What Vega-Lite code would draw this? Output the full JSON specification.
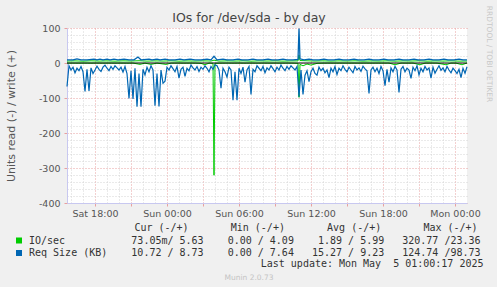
{
"$schema":"https://vega.github.io/schema/vega-lite/v6.json",
"width":400,"height":175,
"autosize":{"type":"none"},
"padding":{"left":67,"top":28,"right":30,"bottom":84},
"background":"#f0f0f0",
"title":{"text":"IOs for /dev/sda - by day","fontSize":12.5,"fontWeight":"normal","color":"#444444","font":"DejaVu Sans","anchor":"middle","dx":-18,"dy":33,"offset":4,"baseline":"alphabetic"},
"datasets":{
"iw":[{"t":"2025-05-03T15:40","v":5.5},{"t":"2025-05-03T16:20","v":6},{"t":"2025-05-03T17:00","v":5.2},{"t":"2025-05-03T17:40","v":6.2},{"t":"2025-05-03T18:20","v":5.5},{"t":"2025-05-03T19:00","v":6},{"t":"2025-05-03T19:40","v":5.3},{"t":"2025-05-03T20:20","v":6.1},{"t":"2025-05-03T21:00","v":5.6},{"t":"2025-05-03T21:40","v":6.5},{"t":"2025-05-03T22:20","v":5.4},{"t":"2025-05-03T23:00","v":6},{"t":"2025-05-03T23:40","v":5.5},{"t":"2025-05-04T00:20","v":6.2},{"t":"2025-05-04T01:00","v":5.3},{"t":"2025-05-04T01:40","v":5.9},{"t":"2025-05-04T02:20","v":5.5},{"t":"2025-05-04T03:00","v":6.1},{"t":"2025-05-04T03:40","v":5.6},{"t":"2025-05-04T03:55","v":8},{"t":"2025-05-04T04:20","v":5.4},{"t":"2025-05-04T05:00","v":6},{"t":"2025-05-04T05:40","v":5.5},{"t":"2025-05-04T06:20","v":6.2},{"t":"2025-05-04T07:00","v":5.3},{"t":"2025-05-04T07:40","v":6},{"t":"2025-05-04T08:20","v":5.6},{"t":"2025-05-04T09:00","v":6.1},{"t":"2025-05-04T09:40","v":5.4},{"t":"2025-05-04T10:20","v":5.9},{"t":"2025-05-04T10:55","v":6},{"t":"2025-05-04T11:00","v":23.36},{"t":"2025-05-04T11:05","v":7},{"t":"2025-05-04T11:40","v":6.3},{"t":"2025-05-04T12:20","v":5.5},{"t":"2025-05-04T13:00","v":6.1},{"t":"2025-05-04T13:40","v":5.4},{"t":"2025-05-04T14:20","v":6},{"t":"2025-05-04T15:00","v":5.6},{"t":"2025-05-04T15:40","v":6.2},{"t":"2025-05-04T16:20","v":5.3},{"t":"2025-05-04T17:00","v":5.9},{"t":"2025-05-04T17:40","v":5.5},{"t":"2025-05-04T18:20","v":6.1},{"t":"2025-05-04T19:00","v":5.4},{"t":"2025-05-04T19:40","v":6},{"t":"2025-05-04T20:20","v":5.6},{"t":"2025-05-04T21:00","v":6.2},{"t":"2025-05-04T21:40","v":5.3},{"t":"2025-05-04T22:20","v":5.9},{"t":"2025-05-04T23:00","v":5.5},{"t":"2025-05-04T23:40","v":6.1},{"t":"2025-05-05T00:20","v":5.4},{"t":"2025-05-05T01:00","v":5.63}],
"ir":[{"t":"2025-05-03T15:40","v":-0.4},{"t":"2025-05-03T16:10","v":-0.2},{"t":"2025-05-03T16:40","v":-0.4},{"t":"2025-05-03T17:10","v":-0.2},{"t":"2025-05-03T17:40","v":-0.4},{"t":"2025-05-03T18:10","v":-0.2},{"t":"2025-05-03T18:40","v":-0.4},{"t":"2025-05-03T19:10","v":-0.2},{"t":"2025-05-03T19:40","v":-0.4},{"t":"2025-05-03T20:10","v":-0.2},{"t":"2025-05-03T20:40","v":-0.4},{"t":"2025-05-03T21:10","v":-0.2},{"t":"2025-05-03T21:45","v":-4},{"t":"2025-05-03T22:10","v":-0.4},{"t":"2025-05-03T22:40","v":-4},{"t":"2025-05-03T23:10","v":-0.4},{"t":"2025-05-03T23:55","v":-4},{"t":"2025-05-04T00:20","v":-0.4},{"t":"2025-05-04T00:50","v":-0.2},{"t":"2025-05-04T01:20","v":-0.4},{"t":"2025-05-04T01:50","v":-0.2},{"t":"2025-05-04T02:20","v":-0.4},{"t":"2025-05-04T02:50","v":-1},{"t":"2025-05-04T03:10","v":-5},{"t":"2025-05-04T03:30","v":-0.4},{"t":"2025-05-04T03:50","v":-1},{"t":"2025-05-04T03:55","v":-320.77},{"t":"2025-05-04T04:00","v":-1},{"t":"2025-05-04T04:30","v":-0.4},{"t":"2025-05-04T05:00","v":-0.2},{"t":"2025-05-04T05:30","v":-0.4},{"t":"2025-05-04T06:00","v":-0.2},{"t":"2025-05-04T06:30","v":-0.4},{"t":"2025-05-04T07:00","v":-0.2},{"t":"2025-05-04T07:30","v":-0.4},{"t":"2025-05-04T08:00","v":-0.2},{"t":"2025-05-04T08:30","v":-0.4},{"t":"2025-05-04T09:00","v":-0.2},{"t":"2025-05-04T09:30","v":-0.4},{"t":"2025-05-04T10:00","v":-0.2},{"t":"2025-05-04T10:30","v":-0.4},{"t":"2025-05-04T10:55","v":-1},{"t":"2025-05-04T11:00","v":-98},{"t":"2025-05-04T11:05","v":-4},{"t":"2025-05-04T11:20","v":-8},{"t":"2025-05-04T11:40","v":-3},{"t":"2025-05-04T12:00","v":-6},{"t":"2025-05-04T12:30","v":-1},{"t":"2025-05-04T13:00","v":-0.4},{"t":"2025-05-04T13:30","v":-0.2},{"t":"2025-05-04T14:00","v":-0.4},{"t":"2025-05-04T14:30","v":-0.2},{"t":"2025-05-04T15:00","v":-0.4},{"t":"2025-05-04T15:30","v":-0.2},{"t":"2025-05-04T16:00","v":-0.4},{"t":"2025-05-04T16:30","v":-0.2},{"t":"2025-05-04T17:00","v":-0.4},{"t":"2025-05-04T17:30","v":-0.2},{"t":"2025-05-04T18:00","v":-0.4},{"t":"2025-05-04T18:30","v":-0.2},{"t":"2025-05-04T19:00","v":-5},{"t":"2025-05-04T19:30","v":-0.2},{"t":"2025-05-04T20:00","v":-0.4},{"t":"2025-05-04T20:30","v":-0.2},{"t":"2025-05-04T21:05","v":-5},{"t":"2025-05-04T21:30","v":-0.4},{"t":"2025-05-04T22:00","v":-0.2},{"t":"2025-05-04T22:30","v":-0.4},{"t":"2025-05-04T23:15","v":-5},{"t":"2025-05-04T23:40","v":-0.2},{"t":"2025-05-05T00:05","v":-0.4},{"t":"2025-05-05T00:35","v":-5},{"t":"2025-05-05T01:00","v":-0.07}],
"rw":[{"t":"2025-05-03T15:40","v":9},{"t":"2025-05-03T16:10","v":8.8},{"t":"2025-05-03T16:30","v":11.5},{"t":"2025-05-03T16:50","v":9},{"t":"2025-05-03T17:20","v":8.7},{"t":"2025-05-03T17:55","v":11},{"t":"2025-05-03T18:10","v":9},{"t":"2025-05-03T18:25","v":11},{"t":"2025-05-03T18:40","v":9},{"t":"2025-05-03T19:00","v":11},{"t":"2025-05-03T19:15","v":8.8},{"t":"2025-05-03T19:35","v":11},{"t":"2025-05-03T19:55","v":9},{"t":"2025-05-03T20:25","v":11},{"t":"2025-05-03T20:50","v":8.8},{"t":"2025-05-03T21:15","v":9},{"t":"2025-05-03T21:35","v":17},{"t":"2025-05-03T21:50","v":9},{"t":"2025-05-03T22:30","v":11},{"t":"2025-05-03T22:45","v":9},{"t":"2025-05-03T23:10","v":11},{"t":"2025-05-03T23:25","v":8.8},{"t":"2025-05-03T23:50","v":11},{"t":"2025-05-04T00:10","v":9},{"t":"2025-05-04T00:40","v":8.7},{"t":"2025-05-04T01:05","v":11},{"t":"2025-05-04T01:25","v":9},{"t":"2025-05-04T01:55","v":11},{"t":"2025-05-04T02:20","v":8.8},{"t":"2025-05-04T02:50","v":9},{"t":"2025-05-04T03:20","v":11},{"t":"2025-05-04T03:40","v":9},{"t":"2025-05-04T03:55","v":19},{"t":"2025-05-04T04:10","v":9},{"t":"2025-05-04T04:40","v":11},{"t":"2025-05-04T05:00","v":8.8},{"t":"2025-05-04T05:30","v":9},{"t":"2025-05-04T05:55","v":11},{"t":"2025-05-04T06:15","v":8.8},{"t":"2025-05-04T06:45","v":9},{"t":"2025-05-04T07:10","v":11},{"t":"2025-05-04T07:30","v":8.8},{"t":"2025-05-04T08:00","v":9},{"t":"2025-05-04T08:25","v":11},{"t":"2025-05-04T08:45","v":8.8},{"t":"2025-05-04T09:15","v":9},{"t":"2025-05-04T09:40","v":11},{"t":"2025-05-04T10:00","v":8.8},{"t":"2025-05-04T10:30","v":9},{"t":"2025-05-04T10:55","v":10},{"t":"2025-05-04T11:00","v":98.73},{"t":"2025-05-04T11:05","v":12},{"t":"2025-05-04T11:25","v":8.8},{"t":"2025-05-04T11:50","v":11},{"t":"2025-05-04T12:10","v":9},{"t":"2025-05-04T12:40","v":8.8},{"t":"2025-05-04T13:05","v":11},{"t":"2025-05-04T13:25","v":9},{"t":"2025-05-04T13:55","v":8.8},{"t":"2025-05-04T14:20","v":11},{"t":"2025-05-04T14:40","v":9},{"t":"2025-05-04T15:10","v":8.8},{"t":"2025-05-04T15:35","v":11},{"t":"2025-05-04T15:55","v":9},{"t":"2025-05-04T16:25","v":8.8},{"t":"2025-05-04T16:50","v":11},{"t":"2025-05-04T17:10","v":9},{"t":"2025-05-04T17:40","v":8.8},{"t":"2025-05-04T18:05","v":11},{"t":"2025-05-04T18:25","v":9},{"t":"2025-05-04T18:55","v":8.8},{"t":"2025-05-04T19:20","v":11},{"t":"2025-05-04T19:40","v":9},{"t":"2025-05-04T20:10","v":8.8},{"t":"2025-05-04T20:35","v":11},{"t":"2025-05-04T20:55","v":9},{"t":"2025-05-04T21:25","v":8.8},{"t":"2025-05-04T21:50","v":11},{"t":"2025-05-04T22:10","v":9},{"t":"2025-05-04T22:40","v":8.8},{"t":"2025-05-04T23:05","v":11},{"t":"2025-05-04T23:25","v":9},{"t":"2025-05-04T23:55","v":8.8},{"t":"2025-05-05T00:20","v":11},{"t":"2025-05-05T00:40","v":9},{"t":"2025-05-05T01:00","v":8.73}],
"rr":[{"t":"2025-05-03T15:40","v":-67},{"t":"2025-05-03T15:50","v":-8},{"t":"2025-05-03T16:00","v":-20},{"t":"2025-05-03T16:10","v":-12},{"t":"2025-05-03T16:20","v":-28},{"t":"2025-05-03T16:30","v":-15},{"t":"2025-05-03T16:40","v":-22},{"t":"2025-05-03T16:50","v":-10},{"t":"2025-05-03T17:00","v":-25},{"t":"2025-05-03T17:10","v":-81},{"t":"2025-05-03T17:20","v":-18},{"t":"2025-05-03T17:30","v":-80},{"t":"2025-05-03T17:40","v":-14},{"t":"2025-05-03T17:50","v":-30},{"t":"2025-05-03T18:00","v":-20},{"t":"2025-05-03T18:10","v":-9},{"t":"2025-05-03T18:20","v":-18},{"t":"2025-05-03T18:30","v":-24},{"t":"2025-05-03T18:40","v":-12},{"t":"2025-05-03T18:50","v":-6},{"t":"2025-05-03T19:00","v":-15},{"t":"2025-05-03T19:10","v":-22},{"t":"2025-05-03T19:20","v":-10},{"t":"2025-05-03T19:30","v":-18},{"t":"2025-05-03T19:40","v":-8},{"t":"2025-05-03T19:50","v":-14},{"t":"2025-05-03T20:00","v":-20},{"t":"2025-05-03T20:10","v":-12},{"t":"2025-05-03T20:20","v":-26},{"t":"2025-05-03T20:30","v":-10},{"t":"2025-05-03T20:40","v":-30},{"t":"2025-05-03T20:50","v":-101},{"t":"2025-05-03T21:00","v":-22},{"t":"2025-05-03T21:10","v":-103},{"t":"2025-05-03T21:20","v":-15},{"t":"2025-05-03T21:30","v":-125},{"t":"2025-05-03T21:40","v":-30},{"t":"2025-05-03T21:50","v":-124.74},{"t":"2025-05-03T22:00","v":-18},{"t":"2025-05-03T22:10","v":-34},{"t":"2025-05-03T22:20","v":-12},{"t":"2025-05-03T22:30","v":-25},{"t":"2025-05-03T22:40","v":-8},{"t":"2025-05-03T22:50","v":-20},{"t":"2025-05-03T23:00","v":-122},{"t":"2025-05-03T23:10","v":-30},{"t":"2025-05-03T23:20","v":-124},{"t":"2025-05-03T23:30","v":-20},{"t":"2025-05-03T23:40","v":-58},{"t":"2025-05-03T23:50","v":-52},{"t":"2025-05-04T00:00","v":-12},{"t":"2025-05-04T00:10","v":-20},{"t":"2025-05-04T00:20","v":-8},{"t":"2025-05-04T00:30","v":-16},{"t":"2025-05-04T00:40","v":-25},{"t":"2025-05-04T00:50","v":-10},{"t":"2025-05-04T01:00","v":-43},{"t":"2025-05-04T01:10","v":-18},{"t":"2025-05-04T01:20","v":-12},{"t":"2025-05-04T01:30","v":-38},{"t":"2025-05-04T01:40","v":-15},{"t":"2025-05-04T01:50","v":-22},{"t":"2025-05-04T02:00","v":-6},{"t":"2025-05-04T02:10","v":-14},{"t":"2025-05-04T02:20","v":-20},{"t":"2025-05-04T02:30","v":-10},{"t":"2025-05-04T02:40","v":-24},{"t":"2025-05-04T02:50","v":-12},{"t":"2025-05-04T03:00","v":-18},{"t":"2025-05-04T03:10","v":-8},{"t":"2025-05-04T03:20","v":-15},{"t":"2025-05-04T03:30","v":-25},{"t":"2025-05-04T03:40","v":-10},{"t":"2025-05-04T03:50","v":-18},{"t":"2025-05-04T04:00","v":-5},{"t":"2025-05-04T04:10","v":-8},{"t":"2025-05-04T04:20","v":-20},{"t":"2025-05-04T04:30","v":-72},{"t":"2025-05-04T04:40","v":-15},{"t":"2025-05-04T04:50","v":-25},{"t":"2025-05-04T05:00","v":-40},{"t":"2025-05-04T05:10","v":-12},{"t":"2025-05-04T05:20","v":-20},{"t":"2025-05-04T05:30","v":-106},{"t":"2025-05-04T05:40","v":-25},{"t":"2025-05-04T05:50","v":-106},{"t":"2025-05-04T06:00","v":-15},{"t":"2025-05-04T06:10","v":-30},{"t":"2025-05-04T06:20","v":-12},{"t":"2025-05-04T06:30","v":-55},{"t":"2025-05-04T06:40","v":-20},{"t":"2025-05-04T06:50","v":-10},{"t":"2025-05-04T07:00","v":-90},{"t":"2025-05-04T07:10","v":-18},{"t":"2025-05-04T07:20","v":-25},{"t":"2025-05-04T07:30","v":-8},{"t":"2025-05-04T07:40","v":-15},{"t":"2025-05-04T07:50","v":-22},{"t":"2025-05-04T08:00","v":-10},{"t":"2025-05-04T08:10","v":-28},{"t":"2025-05-04T08:20","v":-14},{"t":"2025-05-04T08:30","v":-20},{"t":"2025-05-04T08:40","v":-8},{"t":"2025-05-04T08:50","v":-16},{"t":"2025-05-04T09:00","v":-25},{"t":"2025-05-04T09:10","v":-12},{"t":"2025-05-04T09:20","v":-20},{"t":"2025-05-04T09:30","v":-6},{"t":"2025-05-04T09:40","v":-15},{"t":"2025-05-04T09:50","v":-22},{"t":"2025-05-04T10:00","v":-10},{"t":"2025-05-04T10:10","v":-18},{"t":"2025-05-04T10:20","v":-8},{"t":"2025-05-04T10:30","v":-14},{"t":"2025-05-04T10:40","v":-20},{"t":"2025-05-04T10:50","v":-10},{"t":"2025-05-04T11:00","v":-96},{"t":"2025-05-04T11:10","v":-20},{"t":"2025-05-04T11:20","v":-90},{"t":"2025-05-04T11:30","v":-35},{"t":"2025-05-04T11:40","v":-22},{"t":"2025-05-04T11:50","v":-53},{"t":"2025-05-04T12:00","v":-25},{"t":"2025-05-04T12:10","v":-15},{"t":"2025-05-04T12:20","v":-30},{"t":"2025-05-04T12:30","v":-35},{"t":"2025-05-04T12:40","v":-12},{"t":"2025-05-04T12:50","v":-22},{"t":"2025-05-04T13:00","v":-15},{"t":"2025-05-04T13:10","v":-28},{"t":"2025-05-04T13:20","v":-20},{"t":"2025-05-04T13:30","v":-42},{"t":"2025-05-04T13:40","v":-15},{"t":"2025-05-04T13:50","v":-25},{"t":"2025-05-04T14:00","v":-10},{"t":"2025-05-04T14:10","v":-33},{"t":"2025-05-04T14:20","v":-15},{"t":"2025-05-04T14:30","v":-22},{"t":"2025-05-04T14:40","v":-8},{"t":"2025-05-04T14:50","v":-18},{"t":"2025-05-04T15:00","v":-25},{"t":"2025-05-04T15:10","v":-12},{"t":"2025-05-04T15:20","v":-20},{"t":"2025-05-04T15:30","v":-28},{"t":"2025-05-04T15:40","v":-10},{"t":"2025-05-04T15:50","v":-20},{"t":"2025-05-04T16:00","v":-14},{"t":"2025-05-04T16:10","v":-24},{"t":"2025-05-04T16:20","v":-9},{"t":"2025-05-04T16:30","v":-17},{"t":"2025-05-04T16:40","v":-22},{"t":"2025-05-04T16:50","v":-87},{"t":"2025-05-04T17:00","v":-20},{"t":"2025-05-04T17:10","v":-12},{"t":"2025-05-04T17:20","v":-25},{"t":"2025-05-04T17:30","v":-15},{"t":"2025-05-04T17:40","v":-30},{"t":"2025-05-04T17:50","v":-10},{"t":"2025-05-04T18:00","v":-22},{"t":"2025-05-04T18:10","v":-65},{"t":"2025-05-04T18:20","v":-18},{"t":"2025-05-04T18:30","v":-55},{"t":"2025-05-04T18:40","v":-14},{"t":"2025-05-04T18:50","v":-25},{"t":"2025-05-04T19:00","v":-10},{"t":"2025-05-04T19:10","v":-20},{"t":"2025-05-04T19:20","v":-84},{"t":"2025-05-04T19:30","v":-18},{"t":"2025-05-04T19:40","v":-10},{"t":"2025-05-04T19:50","v":-25},{"t":"2025-05-04T20:00","v":-15},{"t":"2025-05-04T20:10","v":-20},{"t":"2025-05-04T20:20","v":-44},{"t":"2025-05-04T20:30","v":-12},{"t":"2025-05-04T20:40","v":-22},{"t":"2025-05-04T20:50","v":-8},{"t":"2025-05-04T21:00","v":-34},{"t":"2025-05-04T21:10","v":-15},{"t":"2025-05-04T21:20","v":-25},{"t":"2025-05-04T21:30","v":-10},{"t":"2025-05-04T21:40","v":-20},{"t":"2025-05-04T21:50","v":-14},{"t":"2025-05-04T22:00","v":-43},{"t":"2025-05-04T22:10","v":-12},{"t":"2025-05-04T22:20","v":-29},{"t":"2025-05-04T22:30","v":-18},{"t":"2025-05-04T22:40","v":-8},{"t":"2025-05-04T22:50","v":-21},{"t":"2025-05-04T23:00","v":-14},{"t":"2025-05-04T23:10","v":-25},{"t":"2025-05-04T23:20","v":-10},{"t":"2025-05-04T23:30","v":-20},{"t":"2025-05-04T23:40","v":-28},{"t":"2025-05-04T23:50","v":-15},{"t":"2025-05-05T00:00","v":-22},{"t":"2025-05-05T00:10","v":-30},{"t":"2025-05-05T00:20","v":-18},{"t":"2025-05-05T00:30","v":-42},{"t":"2025-05-05T00:40","v":-15},{"t":"2025-05-05T00:50","v":-29},{"t":"2025-05-05T01:00","v":-10.72}],
"zero":[{"v":0}]
},
"layer":[
{"data":{"name":"iw"},"mark":{"type":"line","strokeWidth":1},
 "encoding":{
  "x":{"field":"t","type":"temporal","scale":{"domain":[{"year":2025,"month":5,"date":3,"hours":15,"minutes":40},{"year":2025,"month":5,"date":5,"hours":1}]},
   "axis":{"orient":"top","values":[{"year":2025,"month":5,"date":3,"hours":16},{"year":2025,"month":5,"date":3,"hours":17},{"year":2025,"month":5,"date":3,"hours":19},{"year":2025,"month":5,"date":3,"hours":20},{"year":2025,"month":5,"date":3,"hours":22},{"year":2025,"month":5,"date":3,"hours":23},{"year":2025,"month":5,"date":4,"hours":1},{"year":2025,"month":5,"date":4,"hours":2},{"year":2025,"month":5,"date":4,"hours":4},{"year":2025,"month":5,"date":4,"hours":5},{"year":2025,"month":5,"date":4,"hours":7},{"year":2025,"month":5,"date":4,"hours":8},{"year":2025,"month":5,"date":4,"hours":10},{"year":2025,"month":5,"date":4,"hours":11},{"year":2025,"month":5,"date":4,"hours":13},{"year":2025,"month":5,"date":4,"hours":14},{"year":2025,"month":5,"date":4,"hours":16},{"year":2025,"month":5,"date":4,"hours":17},{"year":2025,"month":5,"date":4,"hours":19},{"year":2025,"month":5,"date":4,"hours":20},{"year":2025,"month":5,"date":4,"hours":22},{"year":2025,"month":5,"date":4,"hours":23}],
    "grid":true,"gridColor":"#d4d4d4","gridDash":[1,2],"gridOpacity":1,"ticks":false,"labels":false,"domain":false,
    "title":"Munin 2.0.73","titleX":181.5,"titleY":249,"titleAlign":"center","titleAnchor":null,"titleBaseline":"middle","titleAngle":0,"titleFont":"DejaVu Sans","titleFontSize":7.5,"titleFontWeight":"normal","titleColor":"#c4c4c4"}},
  "y":{"field":"v","type":"quantitative","scale":{"domain":[-400,100],"nice":false,"zero":false},
   "axis":{"orient":"right","values":[80,60,40,20,-20,-40,-60,-80,-120,-140,-160,-180,-220,-240,-260,-280,-320,-340,-360,-380],
    "grid":true,"gridColor":"#d4d4d4","gridDash":[1,2],"gridOpacity":1,"ticks":false,"labels":false,"domain":false,
    "title":"RRDTOOL / TOBI OETIKER","titleX":21,"titleY":25.5,"titleAngle":90,"titleAlign":"center","titleAnchor":null,"titleBaseline":"middle","titleFont":"DejaVu Sans","titleFontSize":7.5,"titleFontWeight":"normal","titleColor":"#c8c8c8"}},
  "color":{"datum":"IO/sec","scale":{"domain":["IO/sec","Req Size (KB)"],"range":["#00cc00","#0066b3"]},
   "legend":{"orient":"none","legendX":-53,"legendY":195,"direction":"vertical","padding":0,
    "title":"\u200b\u00a0\u00a0\u00a0\u00a0\u00a0\u00a0\u00a0\u00a0\u00a0\u00a0\u00a0\u00a0\u00a0\u00a0\u00a0\u00a0\u00a0\u00a0\u00a0\u00a0Cur\u00a0(-/+)\u00a0\u00a0\u00a0\u00a0\u00a0\u00a0\u00a0Min\u00a0(-/+)\u00a0\u00a0\u00a0\u00a0\u00a0\u00a0\u00a0Avg\u00a0(-/+)\u00a0\u00a0\u00a0\u00a0\u00a0\u00a0\u00a0Max\u00a0(-/+)",
    "titleFont":"DejaVu Sans Mono","titleFontSize":10,"titleFontWeight":"normal","titleColor":"#333333","titleLimit":1000,"titlePadding":2.5,
    "labelFont":"DejaVu Sans Mono","labelFontSize":10,"labelColor":"#333333","labelLimit":1000,"labelOffset":5,
    "labelExpr":"datum.value == 'IO/sec' ? 'IO/sec\u00a0\u00a0\u00a0\u00a0\u00a0\u00a0\u00a0\u00a0\u00a0\u00a0\u00a073.05m/\u00a05.63\u00a0\u00a0\u00a0\u00a00.00\u00a0/\u00a04.09\u00a0\u00a0\u00a0\u00a01.89\u00a0/\u00a05.99\u00a0\u00a0\u00a0320.77\u00a0/23.36' : 'Req\u00a0Size\u00a0(KB)\u00a0\u00a0\u00a0\u00a010.72\u00a0/\u00a08.73\u00a0\u00a0\u00a0\u00a00.00\u00a0/\u00a07.64\u00a0\u00a0\u00a015.27\u00a0/\u00a09.23\u00a0\u00a0\u00a0124.74\u00a0/98.73'",
    "symbolType":"square","symbolSize":36,"symbolStrokeWidth":0,"rowPadding":2.5,
    "encode":{"symbols":{"update":{"fill":{"scale":"color","field":"value"},"stroke":{"value":"transparent"},"opacity":{"value":1}}}}}}
 }},
{"data":{"name":"ir"},"mark":{"type":"line","strokeWidth":1},
 "encoding":{"x":{"field":"t","type":"temporal","axis":null},"y":{"field":"v","type":"quantitative","axis":null},"color":{"datum":"IO/sec"}}},
{"data":{"name":"rw"},"mark":{"type":"line","strokeWidth":1.3},
 "encoding":{"x":{"field":"t","type":"temporal","axis":null},"y":{"field":"v","type":"quantitative","axis":null},"color":{"datum":"Req Size (KB)"}}},
{"data":{"name":"rr"},"mark":{"type":"line","strokeWidth":1.2},
 "encoding":{
  "x":{"field":"t","type":"temporal",
   "axis":{"orient":"bottom","values":[{"year":2025,"month":5,"date":3,"hours":18},{"year":2025,"month":5,"date":3,"hours":21},{"year":2025,"month":5,"date":4,"hours":0},{"year":2025,"month":5,"date":4,"hours":3},{"year":2025,"month":5,"date":4,"hours":6},{"year":2025,"month":5,"date":4,"hours":9},{"year":2025,"month":5,"date":4,"hours":12},{"year":2025,"month":5,"date":4,"hours":15},{"year":2025,"month":5,"date":4,"hours":18},{"year":2025,"month":5,"date":4,"hours":21},{"year":2025,"month":5,"date":5,"hours":0}],
    "labelExpr":"hours(datum.value) % 6 == 0 ? timeFormat(datum.value, '%a %H:%M') : ''",
    "labelFont":"DejaVu Sans","labelFontSize":9.5,"labelColor":"#555555","labelPadding":2,"labelFlush":false,"labelOverlap":false,
    "tickSize":3,"tickColor":"#e8a0a0","grid":true,"gridColor":"#e8a0a0","gridDash":[1,2],"gridOpacity":1,"domainColor":"#c8c8f0",
    "title":"Last update: Mon May\u00a0\u00a05 01:00:17 2025","titleX":416,"titleY":60.5,"titleAlign":"right","titleAnchor":null,"titleBaseline":"middle","titleFont":"DejaVu Sans Mono","titleFontSize":10,"titleFontWeight":"normal","titleColor":"#333333"}},
  "y":{"field":"v","type":"quantitative",
   "axis":{"orient":"left","values":[100,0,-100,-200,-300,-400],"labelExpr":"toString(datum.value)",
    "labelFont":"DejaVu Sans","labelFontSize":9.5,"labelColor":"#555555","labelPadding":4,
    "tickSize":3,"tickColor":"#e8a0a0","grid":true,"gridColor":"#e8a0a0","gridDash":[1,2],"gridOpacity":1,"domainColor":"#c8c8f0",
    "title":"Units read (-) / write (+)","titleX":-56,"titleY":87.5,"titleAngle":270,"titleAlign":"center","titleAnchor":null,"titleBaseline":"middle","titleFont":"DejaVu Sans","titleFontSize":11,"titleFontWeight":"normal","titleColor":"#555555"}},
  "color":{"datum":"Req Size (KB)"}}},
{"data":{"name":"zero"},"mark":{"type":"rule","color":"#000000","strokeWidth":1},
 "encoding":{"y":{"field":"v","type":"quantitative","axis":null}}}
],
"resolve":{"axis":{"x":"independent","y":"independent"}},
"config":{"view":{"fill":"#ffffff","stroke":null},"axis":{"gridOpacity":1}}
}
